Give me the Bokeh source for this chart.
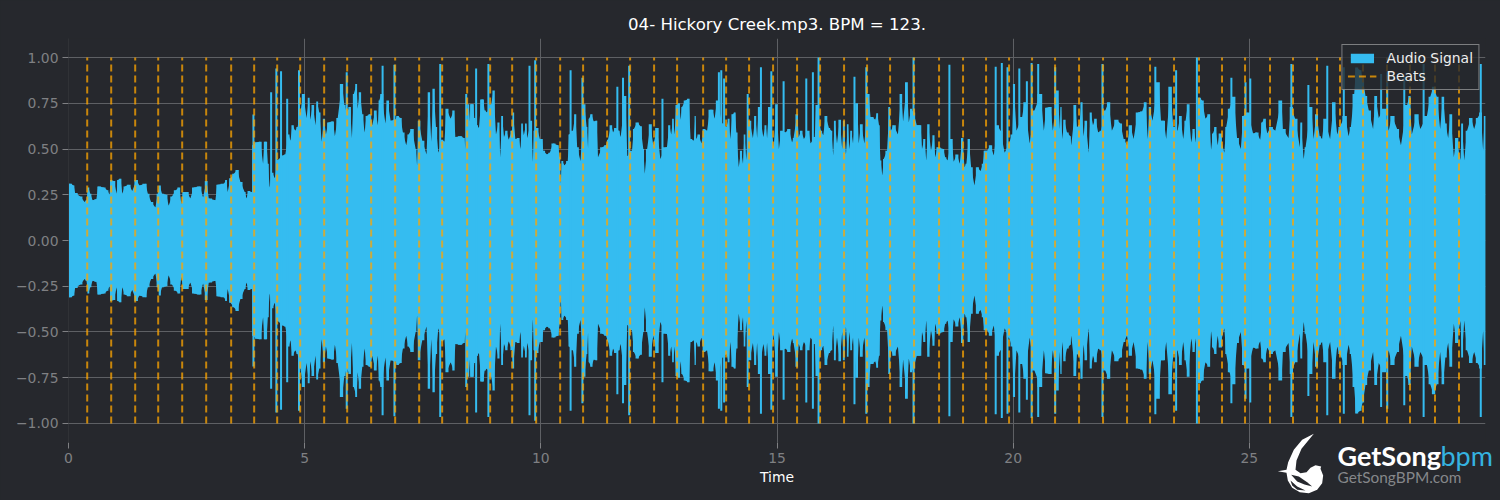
from bokeh.core.properties import value
from bokeh.embed import file_html
from bokeh.layouts import column
from bokeh.resources import INLINE
from bokeh.plotting import figure
from bokeh.models import FixedTicker, Legend, LegendItem, Range1d, Title
import numpy as np

BG = "#26282d"
BLUE = "#35bcf0"
GRID = "#5e6064"
TICK = "#7f8083"

title_text = "04- Hickory Creek.mp3. BPM = 123."
x_ticks = [0, 5, 10, 15, 20, 25]
y_ticks = [-1.0, -0.75, -0.5, -0.25, 0.0, 0.25, 0.5, 0.75, 1.0]
y_tick_labels = {-1.0: "−1.00", -0.75: "−0.75", -0.5: "−0.50", -0.25: "−0.25", 0.0: "0.00",
                 0.25: "0.25", 0.5: "0.50", 0.75: "0.75", 1.0: "1.00"}

beats = [.396, .904, 1.412, 1.899, 2.407, 2.915, 3.444, 3.931, 4.418, 4.905, 5.413, 5.900,
         6.408, 6.916, 7.424, 7.911, 8.440, 8.927, 9.393, 9.901, 10.409, 10.895, 11.403,
         11.890, 12.398, 12.885, 13.436, 13.923, 14.409, 14.917, 15.425, 15.912, 16.420,
         16.907, 17.394, 17.902, 18.431, 18.939, 19.426, 19.913, 20.400, 20.887, 21.395,
         21.903, 22.411, 22.898, 23.406, 23.935, 24.422, 24.909, 25.438, 25.925, 26.433,
         26.920, 27.407, 27.915, 28.402, 28.931, 29.439]

# Waveform envelope in sections: time (s), peak amplitude
t_a = [0, .04, .11, .14, .25, .34, .38, .42, .46, .51, .59, .63, .75, .82, .87, .89, .96, 1.02, 1.04,
       1.10, 1.14, 1.19, 1.28, 1.35, 1.44, 1.50, 1.63, 1.68, 1.75, 1.84, 1.89, 1.93, 1.98, 2.07,
       2.12, 2.19, 2.27, 2.34, 2.39, 2.43, 2.51, 2.58, 2.65, 2.78, 2.85, 2.92, 2.97, 3.11, 3.15,
       3.29, 3.34, 3.37, 3.43, 3.50, 3.57, 3.64, 3.73, 3.77, 3.81, 3.88, 3.89, 3.895, 3.99]
a_a = [.31, .31, .30, .26, .24, .21, .22, .29, .255, .22, .225, .295, .29, .275, .25, .33, .325, .255,
       .33, .337, .255, .295, .305, .27, .33, .30, .31, .255, .21, .18, .255, .30, .255, .25,
       .19, .24, .275, .29, .20, .265, .265, .23, .29, .295, .235, .325, .23, .22, .305,
       .31, .33, .265, .34, .365, .385, .32, .265, .23, .27, .265, .265, .52, .537]

t_b = [4.06, 4.12, 4.15, 4.19, 4.22, 4.26, 4.31, 4.37, 4.43, 4.54, 4.59, 4.66, 4.70, 4.74, 4.80, 4.85,
       4.91, 4.97, 5.04, 5.09, 5.12, 5.17, 5.23, 5.26, 5.31, 5.36, 5.41, 5.45, 5.50, 5.60, 5.64,
       5.70, 5.79, 5.84, 5.89, 5.96, 6.00, 6.04, 6.10, 6.12, 6.17, 6.22, 6.27, 6.31, 6.39, 6.43,
       6.50, 6.55, 6.58, 6.62, 6.71, 6.75, 6.82, 6.92, 6.96, 7.03, 7.08, 7.15, 7.20, 7.27, 7.35,
       7.38, 7.41, 7.49, 7.58, 7.63, 7.68, 7.73, 7.78, 7.83, 7.91, 7.96, 8.00, 8.09, 8.16, 8.19,
       8.30]
a_b = [.54, .42, .54, .54, .42, .29, .37, .34, .44, .465, .47, .58, .545, .63, .60, .62,
       .70, .80, .67, .78, .66, .74, .63, .76, .70, .54, .665, .58, .645, .65, .57,
       .67, .855, .74, .70, .73, .56, .80, .855, .72, .81, .69, .59, .68, .69, .63,
       .71, .63, .765, .80, .64, .765, .655, .66, .68, .67, .59, .52, .58, .61, .50,
       .41, .655, .545, .47, .81, .54, .83, .62, .48, .55, .54, .72, .665, .71, .565,
       .57]

t_c = [8.37, 8.41, 8.47, 8.50, 8.51, 8.57, 8.59, 8.65, 8.69, 8.74, 8.78, 8.81, 8.86, 8.95, 9.00, 9.05,
       9.11, 9.14, 9.18, 9.22, 9.27, 9.32, 9.39, 9.41, 9.46, 9.53, 9.57, 9.60, 9.64, 9.69, 9.71,
       9.80, 9.83, 9.86, 9.92, 9.98, 10.03, 10.05, 10.13, 10.19, 10.26, 10.36, 10.40, 10.42, 10.45,
       10.50, 10.57, 10.60, 10.68, 10.73, 10.77, 10.84, 10.92, 10.97, 11.00, 11.02, 11.07, 11.12,
       11.18, 11.21, 11.30, 11.38, 11.42, 11.49, 11.53, 11.57, 11.65, 11.69, 11.79, 11.83, 11.93,
       11.97, 12.04, 12.11, 12.17, 12.20, 12.25, 12.32, 12.38, 12.46, 12.53, 12.64]
a_c = [.56, .50, .745, .65, .745, .745, .67, .63, .615, .77, .77, .71, .70, .745, .82, .58,
       .645, .455, .68, .565, .60, .55, .60, .70, .555, .56, .50, .64, .575, .64, .56,
       .655, .43, .60, .615, .555, .555, .49, .47, .48, .53, .52, .455, .31, .435,
       .41, .435, .58, .60, .69, .51, .435, .745, .62, .505, .665, .69, .65,
       .655, .455, .51, .52, .55, .63, .59, .615, .60, .565, .79, .46, .49,
       .61, .645, .625, .50, .365, .50, .635, .52, .615, .445, .51]

t_d = [12.67, 12.72, 12.76, 12.80, 12.83, 12.87, 12.93, 12.96, 12.99, 13.06, 13.13, 13.17, 13.24, 13.27,
       13.29, 13.34, 13.40, 13.45, 13.52, 13.58, 13.63, 13.68, 13.73, 13.84, 13.93, 13.98, 14.01,
       14.06, 14.11, 14.14, 14.19, 14.24, 14.28, 14.31, 14.35, 14.42, 14.49, 14.54, 14.58, 14.61,
       14.71, 14.76, 14.79, 14.83, 14.93, 14.99, 15.04, 15.09, 15.18, 15.25, 15.32, 15.35, 15.43,
       15.46, 15.51, 15.57, 15.67, 15.71, 15.80, 15.83, 15.93, 15.98, 16.03, 16.10, 16.15, 16.19,
       16.22, 16.27, 16.33, 16.38, 16.41, 16.46, 16.50, 16.53, 16.57, 16.61, 16.70, 16.73, 16.78,
       16.85, 16.94, 16.98]
a_d = [.51, .63, .58, .665, .58, .74, .75, .66, .73, .765, .775, .555, .545, .68,
       .555, .58, .53, .61, .60, .715, .715, .665, .765, .64, .62, .665, .555,
       .69, .70, .59, .40, .49, .42, .58, .44, .655, .56, .68, .56, .73,
       .565, .63, .56, .73, .51, .745, .50, .60, .59, .61, .535, .56, .69,
       .565, .60, .555, .60, .53, .565, .74, .60, .575, .68, .615, .60, .465,
       .655, .53, .66, .50, .655, .47, .635, .50, .60, .53, .75, .53, .635,
       .53, .80, .675]

t_e = [17.01, 17.08, 17.12, 17.16, 17.19, 17.23, 17.26, 17.33, 17.38, 17.41, 17.47, 17.56, 17.63, 17.67,
       17.75, 17.79, 17.84, 17.89, 17.96, 18.04, 18.07, 18.12, 18.16, 18.20, 18.26, 18.32, 18.35,
       18.40, 18.52, 18.56, 18.61, 18.70, 18.74, 18.81, 18.87, 18.92, 18.97, 19.01, 19.06, 19.11,
       19.18, 19.24, 19.31, 19.36, 19.39, 19.45, 19.52, 19.59, 19.67, 19.73, 19.82, 19.91, 19.98,
       20.01, 20.07, 20.19, 20.24, 20.35, 20.45, 20.58, 20.65, 20.70, 20.79, 20.84, 20.94, 20.99,
       21.01, 21.04, 21.08, 21.14, 21.21]
a_e = [.675, .66, .695, .63, .437, .355, .445, .49, .73, .60, .63, .58, .80, .65,
       .865, .645, .72, .70, .63, .63, .50, .555, .437, .635, .49, .575, .455,
       .51, .50, .455, .437, .555, .43, .47, .42, .56, .40, .42, .555, .40,
       .30, .40, .38, .42, .49, .49, .52, .465, .63, .60, .48, .53, .58,
       .856, .60, .675, .755, .53, .71, .80, .60, .725, .73, .60, .82, .61,
       .73, .555, .66, .59, .57]

t_f = [21.23, 21.32, 21.35, 21.40, 21.45, 21.49, 21.53, 21.60, 21.64, 21.69, 21.74, 21.80, 21.86, 21.95,
       22.02, 22.09, 22.19, 22.27, 22.34, 22.41, 22.48, 22.55, 22.64, 22.73, 22.80, 22.85, 22.89,
       22.95, 23.08, 23.13, 23.19, 23.24, 23.33, 23.39, 23.48, 23.54, 23.60, 23.65, 23.70, 23.77,
       23.82, 23.87, 23.95, 24.00, 24.07, 24.15, 24.19, 24.23, 24.28, 24.33, 24.37, 24.47, 24.51,
       24.58, 24.67, 24.74, 24.82, 24.87, 24.97, 25.08, 25.16, 25.23, 25.27, 25.32, 25.38, 25.45,
       25.55]
a_f = [.52, .74, .62, .63, .755, .57, .655, .48, .70, .63, .665, .59, .60, .71,
       .755, .60, .66, .64, .555, .52, .63, .555, .70, .705, .755, .555, .73,
       .655, .865, .655, .655, .555, .84, .62, .60, .68, .555, .655, .745, .535,
       .61, .535, .78, .765, .665, .69, .495, .585, .62, .52, .585, .48, .62,
       .72, .785, .56, .50, .68, .70, .585, .59, .55, .645, .665, .585, .62,
       .60]

t_g = [25.68, 25.71, 25.83, 25.88, 25.97, 26.07, 26.09, 26.15, 26.19, 26.31, 26.36, 26.42, 26.49, 26.54,
       26.59, 26.71, 26.79, 26.86, 26.91, 27.03, 27.10, 27.15, 27.22, 27.26, 27.35, 27.40, 27.46,
       27.53, 27.62, 27.67, 27.74, 27.84, 27.95, 28.02, 28.13, 28.21, 28.34, 28.39, 28.44, 28.55,
       28.62, 28.76, 28.83, 28.90, 28.97, 29.04, 29.10, 29.15, 29.21, 29.26, 29.33, 29.38, 29.47,
       29.50, 29.55, 29.61, 29.69, 29.76, 29.83, 29.90, 29.95, 29.98, 30.0]
a_g = [.765, .61, .56, .73, .665, .51, .645, .445, .51, .73, .555, .69, .57, .555,
       .665, .555, .755, .58, .62, .68, .57, .62, .80, .945, .93, .885, .79,
       .71, .61, .79, .67, .72, .60, .68, .61, .52, .74, .79, .58, .69,
       .61, .68, .785, .84, .785, .61, .785, .64, .56, .69, .455, .56, .44,
       .64, .437, .60, .67, .61, .67, .70, .49, .68, .68]

# Narrow tall peaks of the waveform: time (s), peak amplitude
spike_t = [3.915, 4.29, 4.40, 4.50, 4.63, 4.88, 5.89, 6.65, 6.90, 7.87, 8.42, 8.63, 8.89, 9.76, 9.88, 10.63,
           10.88, 11.62, 11.74, 11.87, 12.575, 13.77, 13.82, 13.88, 14.38, 14.66, 14.88, 15.14, 15.62,
           15.76, 15.88, 16.64, 16.89, 17.89, 18.65, 19.63, 19.76, 19.88, 20.13, 20.29, 20.39, 20.53,
           20.89, 21.89, 23.01, 23.45, 23.89, 24.62, 24.92, 25.02, 25.89, 26.25, 26.65, 27.00, 27.79,
           27.92, 28.28, 28.69, 29.90]
spike_a = [.688, .81, .94, .925, .775, .93, .92, .955, .96, .965, .80, .94, .965, .955, .985, .93,
           .89, .84, .89, .955, .775, .92, .93, .885, .80, .947, .925, .87, .885,
           .92, 1.0, .895, .947, 1.0, .96, .95, .97, .947, .94, .87, .97, .965,
           .947, .965, .95, .93, 1.0, .89, .865, .885, .965, .85, .955, .947, .91,
           .92, .90, .965, .965]

wave_t = np.array(t_a + t_b + t_c + t_d + t_e + t_f + t_g)
wave_peak = np.array(a_a + a_b + a_c + a_d + a_e + a_f + a_g)
spike_peak = np.array(spike_a)

p = figure(width=1500, height=500, output_backend="svg", toolbar_location=None,
           x_range=Range1d(0, 30), y_range=Range1d(-1.104, 1.104),
           min_border_left=68, min_border_right=15, min_border_top=38, min_border_bottom=58,
           background_fill_color=BG, border_fill_color=BG, outline_line_color=None,
           frame_align=False)

p.varea(x=wave_t, y1=-wave_peak, y2=wave_peak, fill_color=BLUE, fill_alpha=1.0)
area = p.varea_step(x=wave_t, y1=-wave_peak, y2=wave_peak, step_mode="center",
                    fill_color=BLUE, fill_alpha=1.0)
p.segment(x0=spike_t, y0=-spike_peak, x1=spike_t, y1=spike_peak, line_color=BLUE, line_width=2)
beat_r = p.segment(x0=beats, y0=[-1] * len(beats), x1=beats, y1=[1] * len(beats),
                   line_color="#ffa500", line_alpha=0.75, line_width=2, line_dash="7 4")

p.add_layout(Title(text=title_text, align="center", text_color="#ffffff", text_font="DejaVu Sans",
                   text_font_size="16.6px", text_font_style="normal", standoff=10), "above")

p.xgrid.ticker = FixedTicker(ticks=x_ticks[1:])
p.ygrid.ticker = FixedTicker(ticks=y_ticks)
for g in (p.xgrid, p.ygrid):
    g.grid_line_color = GRID
    g.grid_line_width = 1

p.xaxis.ticker = FixedTicker(ticks=x_ticks)
p.yaxis.ticker = FixedTicker(ticks=y_ticks)
p.yaxis.major_label_overrides = y_tick_labels
p.xaxis.axis_label = "Time"
p.xaxis.axis_label_text_color = "#ffffff"
p.xaxis.axis_label_text_font = "DejaVu Sans"
p.xaxis.axis_label_text_font_size = "13.9px"
p.xaxis.axis_label_text_font_style = "normal"
p.xaxis.axis_label_standoff = 3
p.xaxis.axis_line_color = None
p.yaxis.axis_line_color = "#303236"
for ax in (p.xaxis, p.yaxis):
    ax.major_tick_line_color = TICK
    ax.major_tick_out = 6
    ax.major_tick_in = 0
    ax.minor_tick_line_color = None
    ax.major_label_text_color = TICK
    ax.major_label_text_font = "DejaVu Sans"
    ax.major_label_text_font_size = "13.9px"
    ax.major_label_standoff = 4

legend = Legend(items=[LegendItem(label="Audio Signal", renderers=[area]),
                       LegendItem(label="Beats", renderers=[beat_r])],
                location="top_right", margin=6, padding=5, spacing=2,
                background_fill_color=BG, background_fill_alpha=0.8,
                border_line_color="#d4d4d4", border_line_width=1.5,
                label_text_color="#eeeeee", label_text_font="DejaVu Sans",
                label_text_font_size="13.9px", label_standoff=10,
                glyph_width=29, glyph_height=12)
p.add_layout(legend, "center")

# Transparent logo layer laid over the bottom strip of the page (y 425-500)
logo = figure(width=1500, height=75, output_backend="svg", toolbar_location=None,
              x_axis_location=None, y_axis_location=None,
              x_range=Range1d(0, 1500), y_range=Range1d(500, 425),
              min_border=0, min_border_left=0, min_border_right=0, min_border_top=0,
              min_border_bottom=0, background_fill_color=None, border_fill_color=None,
              outline_line_color=None, margin=(-75, 0, 0, 0), frame_align=False)
logo.grid.visible = False


def logo_poly(points, color):
    xs = [1200 + a / 3 for a, b in points]
    ys = [380 + b / 3 for a, b in points]
    logo.patch(xs, ys, fill_color=color, line_color=None)


logo_body = [(340, 160), (305, 178), (280, 208), (263, 245), (258, 268), (232, 272), (258, 277),
             (262, 300), (275, 322), (298, 335), (325, 338), (350, 328), (365, 308), (368, 285),
             (360, 265), (362, 258), (345, 254), (330, 262), (318, 275), (300, 278), (285, 268),
             (288, 240), (303, 205)]
logo_cut_a = [(272, 283), (295, 288), (320, 305), (335, 318), (312, 312), (290, 303)]
logo_cut_b = [(270, 300), (290, 318), (315, 330), (290, 328), (275, 315)]
logo_poly(logo_body, "#ffffff")
logo_poly(logo_cut_a, BG)
logo_poly(logo_cut_b, BG)

logo.text([1337], [455], text=["GetSong"], text_color="#ffffff", text_font=value("Lato"),
          text_font_size="27px", text_font_style="bold", text_baseline="middle")
logo.text([1440], [455], text=["bpm"], text_color="#35b3e0", text_font=value("Lato"),
          text_font_size="27px", text_baseline="middle")
logo.text([1337], [476], text=["GetSongBPM.com"], text_color="#85878a", text_font=value("Lato"),
          text_font_size="15.4px", text_baseline="middle")

page = column(p, logo, spacing=0)
html = file_html(page, INLINE)
html = html.replace("</head>", f"<style>html,body{{background:{BG};}}</style></head>", 1)
open("out.html", "w").write(html)
